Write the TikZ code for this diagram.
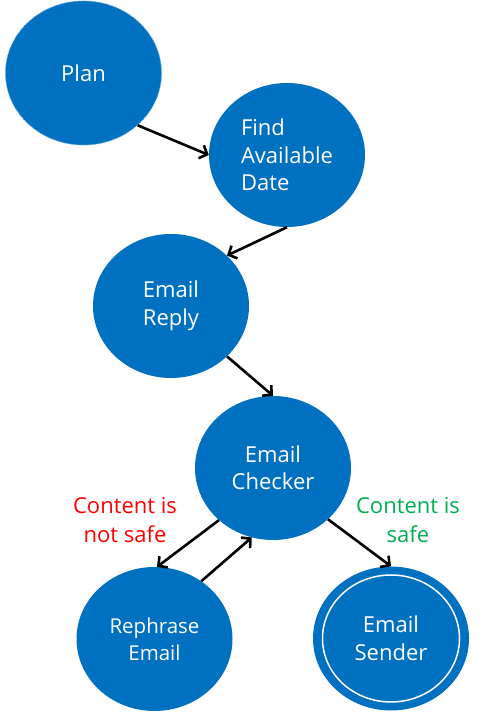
\documentclass[tikz,border=0pt]{standalone}
\usepackage{fontspec}
\setmainfont{Open Sans}
\usetikzlibrary{shapes.geometric,arrows.meta}
\definecolor{boxblue}{HTML}{0070C0}
\definecolor{okgreen}{HTML}{00B050}
\begin{document}
\begin{tikzpicture}[x=1pt,y=1pt,
    state/.style={ellipse,fill=boxblue,text=white,inner sep=0pt,
      minimum width=156pt,minimum height=144pt,align=center,
      font=\fontsize{22}{27.5}\selectfont},
    arr/.style={-{Straight Barb[length=6.5pt,width=14pt]},line width=2.6pt}]
    \useasboundingbox (0,0) rectangle (494,714);
    \node[state,draw=boxblue!65!white,dash pattern=on 1.2pt off 1pt,line width=0.8pt] (plan) at (83.5,641) {Plan};
    \node[state,align=left] (find) at (287,559) {Find\\Available\\Date};
    \node[state] (reply) at (171,408) {Email\\Reply};
    \node[state] (checker) at (273,246) {Email\\Checker};
    \node[state,font=\fontsize{20.5}{27}\selectfont] (rephrase) at (154.5,75) {Rephrase\\Email};
    \node[state] (sender) at (391,75.5) {Email\\Sender};
    \draw[white,line width=1.5pt] (sender.center) ellipse [x radius=68.5pt,y radius=63.5pt];
    % labels
    \node[red,align=center,font=\fontsize{22}{28.5}\selectfont] (notsafe) at (125,194) {Content is\\not safe};
    \node[okgreen,align=center,font=\fontsize{22}{28.5}\selectfont] (safe) at (408,194) {Content is\\safe};
    % arrows
    \draw[arr] (plan.-44) -- (find.west);
    \draw[arr] (find.south) -- (reply.42);
    \draw[arr] (reply.-42) -- (checker.north);
    \draw[arr] (checker.-136) -- (rephrase.88);
    \draw[arr] (rephrase.51) -- (checker.-107);
    \draw[arr] (checker.-43) -- (sender.north);
\end{tikzpicture}
\end{document}
